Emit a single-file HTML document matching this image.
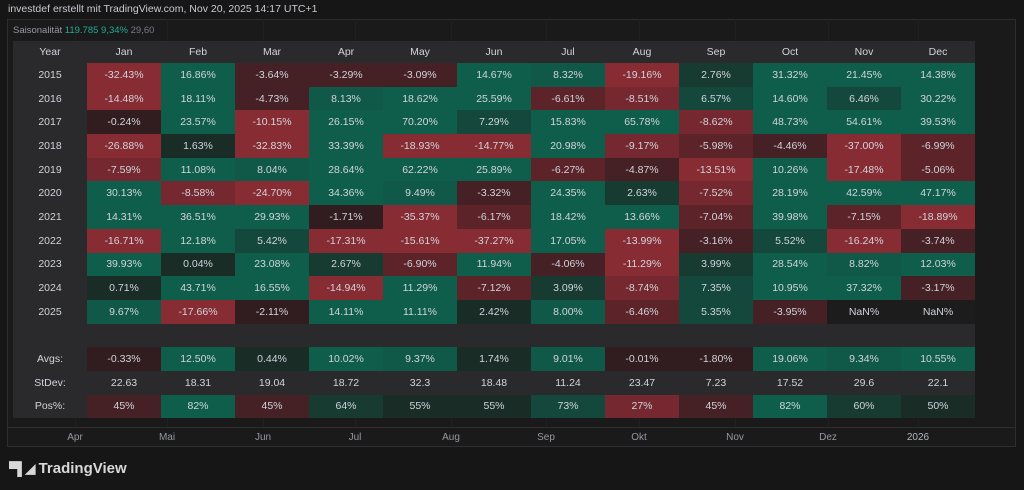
<!DOCTYPE html>
<html><head><meta charset="utf-8"><style>
body{margin:0;width:1024px;height:490px;background:#161616;font-family:"Liberation Sans",sans-serif;position:relative;overflow:hidden;color:#d1d4dc}
.top{position:absolute;left:8px;top:3px;font-size:10.5px;color:#c8cad0}
.pane{position:absolute;left:7px;top:19px;width:1009px;height:428px;border:1px solid #2e2e2e;box-sizing:border-box;background:#1a1a1a}
.vl{position:absolute;top:19px;height:409px;width:1px;background:#202020}
.axis{position:absolute;left:7px;top:427px;width:1009px;height:1px;background:#2e2e2e}
.al{position:absolute;top:432px;font-size:10px;color:#9598a1;transform:translateX(-50%)}
.leg{position:absolute;left:13px;top:25px;font-size:9.5px;color:#9598a1}
table{position:absolute;left:13px;top:41px;border-collapse:collapse;table-layout:fixed}
td{width:74px;height:23.7px;padding:0;text-align:center;font-size:10.5px;color:#d1d4dc;background:#2a2a2d}
tr.h td{height:22px}
.g1{background:#1a2c26}.g2{background:#173a31}.g3{background:#14483c}.g4{background:#105848}.g5{background:#0f5e4c}
.r1{background:#311c1f}.r2{background:#452025}.r3{background:#5c2329}.r4{background:#75282f}.r5{background:#882c34}
.n{background:#1c1c1c}
.logo{position:absolute;left:9px;top:460px;font-size:15px;font-weight:bold;color:#d8d8d8}
</style></head><body>
<div class="top">investdef erstellt mit TradingView.com, Nov 20, 2025 14:17 UTC+1</div>
<div class="pane"></div>
<div class="vl" style="left:75px"></div><div class="vl" style="left:167px"></div><div class="vl" style="left:263px"></div><div class="vl" style="left:355px"></div><div class="vl" style="left:451px"></div><div class="vl" style="left:546px"></div><div class="vl" style="left:639px"></div><div class="vl" style="left:735px"></div><div class="vl" style="left:828px"></div><div class="vl" style="left:918px"></div>
<div class="axis"></div>
<div class="leg">Saisonalität <span style="color:#22ab94">119.785</span> <span style="color:#22ab94">9,34%</span> <span style="color:#787b86">29,60</span></div>
<table>
<tr class="h"><td>Year</td><td>Jan</td><td>Feb</td><td>Mar</td><td>Apr</td><td>May</td><td>Jun</td><td>Jul</td><td>Aug</td><td>Sep</td><td>Oct</td><td>Nov</td><td>Dec</td></tr>
<tr><td>2015</td><td class="r5">-32.43%</td><td class="g5">16.86%</td><td class="r2">-3.64%</td><td class="r2">-3.29%</td><td class="r2">-3.09%</td><td class="g5">14.67%</td><td class="g4">8.32%</td><td class="r5">-19.16%</td><td class="g2">2.76%</td><td class="g5">31.32%</td><td class="g5">21.45%</td><td class="g5">14.38%</td></tr>
<tr><td>2016</td><td class="r5">-14.48%</td><td class="g5">18.11%</td><td class="r2">-4.73%</td><td class="g4">8.13%</td><td class="g5">18.62%</td><td class="g5">25.59%</td><td class="r3">-6.61%</td><td class="r4">-8.51%</td><td class="g3">6.57%</td><td class="g5">14.60%</td><td class="g3">6.46%</td><td class="g5">30.22%</td></tr>
<tr><td>2017</td><td class="r1">-0.24%</td><td class="g5">23.57%</td><td class="r5">-10.15%</td><td class="g5">26.15%</td><td class="g5">70.20%</td><td class="g3">7.29%</td><td class="g5">15.83%</td><td class="g5">65.78%</td><td class="r4">-8.62%</td><td class="g5">48.73%</td><td class="g5">54.61%</td><td class="g5">39.53%</td></tr>
<tr><td>2018</td><td class="r5">-26.88%</td><td class="g1">1.63%</td><td class="r5">-32.83%</td><td class="g5">33.39%</td><td class="r5">-18.93%</td><td class="r5">-14.77%</td><td class="g5">20.98%</td><td class="r4">-9.17%</td><td class="r3">-5.98%</td><td class="r2">-4.46%</td><td class="r5">-37.00%</td><td class="r3">-6.99%</td></tr>
<tr><td>2019</td><td class="r4">-7.59%</td><td class="g5">11.08%</td><td class="g4">8.04%</td><td class="g5">28.64%</td><td class="g5">62.22%</td><td class="g5">25.89%</td><td class="r3">-6.27%</td><td class="r2">-4.87%</td><td class="r5">-13.51%</td><td class="g5">10.26%</td><td class="r5">-17.48%</td><td class="r3">-5.06%</td></tr>
<tr><td>2020</td><td class="g5">30.13%</td><td class="r4">-8.58%</td><td class="r5">-24.70%</td><td class="g5">34.36%</td><td class="g4">9.49%</td><td class="r2">-3.32%</td><td class="g5">24.35%</td><td class="g2">2.63%</td><td class="r4">-7.52%</td><td class="g5">28.19%</td><td class="g5">42.59%</td><td class="g5">47.17%</td></tr>
<tr><td>2021</td><td class="g5">14.31%</td><td class="g5">36.51%</td><td class="g5">29.93%</td><td class="r1">-1.71%</td><td class="r5">-35.37%</td><td class="r3">-6.17%</td><td class="g5">18.42%</td><td class="g5">13.66%</td><td class="r3">-7.04%</td><td class="g5">39.98%</td><td class="r3">-7.15%</td><td class="r5">-18.89%</td></tr>
<tr><td>2022</td><td class="r5">-16.71%</td><td class="g5">12.18%</td><td class="g3">5.42%</td><td class="r5">-17.31%</td><td class="r5">-15.61%</td><td class="r5">-37.27%</td><td class="g5">17.05%</td><td class="r5">-13.99%</td><td class="r2">-3.16%</td><td class="g3">5.52%</td><td class="r5">-16.24%</td><td class="r2">-3.74%</td></tr>
<tr><td>2023</td><td class="g5">39.93%</td><td class="g1">0.04%</td><td class="g5">23.08%</td><td class="g2">2.67%</td><td class="r3">-6.90%</td><td class="g5">11.94%</td><td class="r2">-4.06%</td><td class="r5">-11.29%</td><td class="g2">3.99%</td><td class="g5">28.54%</td><td class="g4">8.82%</td><td class="g5">12.03%</td></tr>
<tr><td>2024</td><td class="g1">0.71%</td><td class="g5">43.71%</td><td class="g5">16.55%</td><td class="r5">-14.94%</td><td class="g5">11.29%</td><td class="r3">-7.12%</td><td class="g2">3.09%</td><td class="r4">-8.74%</td><td class="g3">7.35%</td><td class="g5">10.95%</td><td class="g5">37.32%</td><td class="r2">-3.17%</td></tr>
<tr><td>2025</td><td class="g4">9.67%</td><td class="r5">-17.66%</td><td class="r1">-2.11%</td><td class="g5">14.11%</td><td class="g5">11.11%</td><td class="g1">2.42%</td><td class="g4">8.00%</td><td class="r3">-6.46%</td><td class="g3">5.35%</td><td class="r2">-3.95%</td><td class="n">NaN%</td><td class="n">NaN%</td></tr>
<tr><td></td><td></td><td></td><td></td><td></td><td></td><td></td><td></td><td></td><td></td><td></td><td></td><td></td></tr>
<tr><td>Avgs:</td><td class="r1">-0.33%</td><td class="g5">12.50%</td><td class="g1">0.44%</td><td class="g5">10.02%</td><td class="g4">9.37%</td><td class="g1">1.74%</td><td class="g4">9.01%</td><td class="r1">-0.01%</td><td class="r1">-1.80%</td><td class="g5">19.06%</td><td class="g4">9.34%</td><td class="g5">10.55%</td></tr>
<tr><td>StDev:</td><td>22.63</td><td>18.31</td><td>19.04</td><td>18.72</td><td>32.3</td><td>18.48</td><td>11.24</td><td>23.47</td><td>7.23</td><td>17.52</td><td>29.6</td><td>22.1</td></tr>
<tr><td>Pos%:</td><td class="r2">45%</td><td class="g5">82%</td><td class="r2">45%</td><td class="g2">64%</td><td class="g1">55%</td><td class="g1">55%</td><td class="g3">73%</td><td class="r4">27%</td><td class="r2">45%</td><td class="g5">82%</td><td class="g2">60%</td><td class="g1">50%</td></tr>
</table>
<div class="al" style="left:75px">Apr</div><div class="al" style="left:167px">Mai</div><div class="al" style="left:263px">Jun</div><div class="al" style="left:355px">Jul</div><div class="al" style="left:451px">Aug</div><div class="al" style="left:546px">Sep</div><div class="al" style="left:639px">Okt</div><div class="al" style="left:735px">Nov</div><div class="al" style="left:828px">Dez</div><div class="al" style="left:918px;color:#b2b5be">2026</div>
<div class="logo"><span style="font-size:13px;letter-spacing:-1px">▀▌◢</span> TradingView</div>
</body></html>
